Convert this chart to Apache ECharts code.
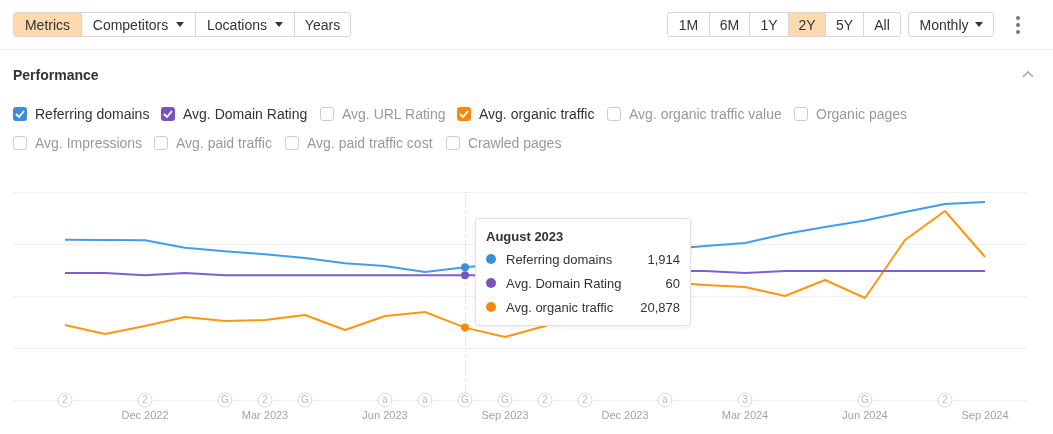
<!DOCTYPE html>
<html>
<head>
<meta charset="utf-8">
<script src="https://cdn.jsdelivr.net/npm/echarts@6/dist/echarts.min.js"></script>
<style>
  body { margin: 0; background: #fff; font-family: 'Liberation Sans', Arial, sans-serif; color: #333; }
  #chart1 { position: absolute; left: 0; top: 0; width: 1053px; height: 434px; }
  .ui { position: absolute; z-index: 2; }
  .grp { display: flex; border: 1px solid #d6d6d6; border-radius: 3px; height: 23px; overflow: hidden; }
  .grp div { display: flex; align-items: center; justify-content: center; font-size: 14px; color: #333; border-left: 1px solid #d6d6d6; box-sizing: border-box; }
  .grp div:first-child { border-left: none; }
  .grp .on { background: #fdd9b0; }
  .caret { display: inline-block; width: 0; height: 0; border-left: 4px solid transparent; border-right: 4px solid transparent; border-top: 5px solid #333; margin-left: 8px; }
  .cb { position: absolute; display: flex; align-items: center; font-size: 14px; color: #999; white-space: nowrap; }
  .cb .box { width: 14px; height: 14px; border: 1px solid #ccc; border-radius: 3px; box-sizing: border-box; margin-right: 8px; background: #fff; }
  .cb.on { color: #333; }
  .cb.on .box { border: none; display: flex; align-items: center; justify-content: center; }
</style>
</head>
<body>
<div id="chart1"></div>

<!-- top bar -->
<div class="ui grp" style="left:13px;top:12px;">
  <div class="on" style="width:67px;">Metrics</div>
  <div style="width:114px;">Competitors<span class="caret"></span></div>
  <div style="width:99px;">Locations<span class="caret"></span></div>
  <div style="width:56px;">Years</div>
</div>
<div class="ui grp" style="left:667px;top:12px;">
  <div style="width:41px;">1M</div>
  <div style="width:40px;">6M</div>
  <div style="width:39px;">1Y</div>
  <div class="on" style="width:37px;">2Y</div>
  <div style="width:38px;">5Y</div>
  <div style="width:37px;">All</div>
</div>
<div class="ui grp" style="left:908px;top:12px;">
  <div style="width:84px;">Monthly<span class="caret" style="margin-left:6px"></span></div>
</div>
<svg class="ui" style="left:1014px;top:15px;" width="8" height="20">
  <circle cx="4" cy="3" r="2" fill="#777"/><circle cx="4" cy="10" r="2" fill="#777"/><circle cx="4" cy="17" r="2" fill="#777"/>
</svg>
<div class="ui" style="left:0;top:49px;width:1053px;height:1px;background:#ececec;"></div>

<div class="ui" style="left:13px;top:67px;font-size:14px;font-weight:bold;color:#333;">Performance</div>
<svg class="ui" style="left:1021px;top:70px;" width="14" height="9">
  <polyline points="2,7 7,2 12,7" fill="none" stroke="#aaa" stroke-width="1.6"/>
</svg>

<div id="checks"></div>

<script>
// months shown on the x axis (Oct 2022 .. Sep 2024)
var months = ['Oct 2022', 'Nov 2022', 'Dec 2022', 'Jan 2023', 'Feb 2023', 'Mar 2023', 'Apr 2023', 'May 2023',
    'Jun 2023', 'Jul 2023', 'Aug 2023', 'Sep 2023', 'Oct 2023', 'Nov 2023', 'Dec 2023', 'Jan 2024',
    'Feb 2024', 'Mar 2024', 'Apr 2024', 'May 2024', 'Jun 2024', 'Jul 2024', 'Aug 2024', 'Sep 2024'];
var labelMonths = [2, 5, 8, 11, 14, 17, 20, 23];

var referringDomains = [2312, 2308, 2303, 2197, 2145, 2101, 2048, 1972, 1933, 1846, 1914, 1962,
    2034, 2091, 2135, 2171, 2221, 2264, 2394, 2495, 2589, 2712, 2827, 2856];
var domainRating = [61, 61, 60, 61, 60, 60, 60, 60, 60, 60, 60, 60,
    61, 62, 62, 62, 62, 61, 62, 62, 62, 62, 62, 62];
var organicTraffic = [21635, 19038, 21346, 23942, 22788, 23077, 24519, 20192, 24231, 25385, 20878, 18173,
    21346, 25962, 30288, 34038, 33173, 32596, 30000, 34615, 29423, 46154, 54519, 41250];

// annotation badges on the time line
var noteMonths = [0, 2, 4, 5, 6, 8, 9, 10, 11, 12, 13, 15, 17, 20, 22];
var noteLabels = ['2', '2', 'G', '2', 'G', 'a', 'a', 'G', 'G', '2', '2', 'a', '3', 'G', '2'];

var hoverIndex = 10;

var seriesNames = ['Referring domains', 'Avg. Domain Rating', 'Avg. organic traffic'];
var seriesColors = ['#3d8ed9', '#7656bd', '#f5890f'];

// metric checkboxes
var checkItems = [
    ['Referring domains', 13, 107, '#3d8ed9'],
    ['Avg. Domain Rating', 161, 107, '#7656bd'],
    ['Avg. URL Rating', 320, 107, null],
    ['Avg. organic traffic', 457, 107, '#f5890f'],
    ['Avg. organic traffic value', 607, 107, null],
    ['Organic pages', 794, 107, null],
    ['Avg. Impressions', 13, 136, null],
    ['Avg. paid traffic', 154, 136, null],
    ['Avg. paid traffic cost', 285, 136, null],
    ['Crawled pages', 446, 136, null]
];

var checksDom = document.getElementById('checks');
checkItems.forEach(function (c) {
    var el = document.createElement('div');
    el.className = 'cb ui' + (c[3] ? ' on' : '');
    el.style.left = c[1] + 'px';
    el.style.top = c[2] + 'px';
    el.style.height = '14px';
    var box = '<span class="box"' + (c[3] ? ' style="background:' + c[3] + '"' : '') + '>' +
        (c[3] ? '<svg width="10" height="8"><polyline points="1,4 4,7 9,1" fill="none" stroke="#fff" stroke-width="1.8"/></svg>' : '') +
        '</span>';
    el.innerHTML = box + c[0];
    checksDom.appendChild(el);
});

function pairs(arr) {
    var out = [];
    for (var i = 0; i < arr.length; i++) out.push([i, arr[i]]);
    return out;
}

var fullMonth = { Jan: 'January', Feb: 'February', Mar: 'March', Apr: 'April', May: 'May', Jun: 'June',
    Jul: 'July', Aug: 'August', Sep: 'September', Oct: 'October', Nov: 'November', Dec: 'December' };

var noteData = [];
for (var k = 0; k < noteMonths.length; k++) noteData.push([noteMonths[k], 0, noteLabels[k]]);

var dom1 = document.getElementById('chart1');
var Chart1 = echarts.init(dom1);

var lineSeries = [referringDomains, domainRating, organicTraffic].map(function (arr, i) {
    return {
        name: seriesNames[i],
        type: 'line',
        yAxisIndex: i,
        data: pairs(arr),
        showSymbol: false,
        symbol: 'circle',
        symbolSize: 8,
        color: seriesColors[i],
        itemStyle: { borderWidth: 0 },
        lineStyle: { width: 2 },
        emphasis: { scale: false, itemStyle: { borderWidth: 0 }, lineStyle: { width: 2 } },
        z: 60 + (2 - i)
    };
});

var option1 = {
    animation: false,
    textStyle: { fontFamily: "'Liberation Sans', Arial, sans-serif" },
    grid: { top: 192, left: 13, right: 26, bottom: 34 },
    tooltip: {
        trigger: 'axis',
        alwaysShowContent: true,
        transitionDuration: 0,
        position: [475, 218],
        padding: 0,
        backgroundColor: '#fff',
        borderColor: '#e2e2e2',
        borderWidth: 1,
        borderRadius: 4,
        extraCssText: 'box-shadow: 0 1px 4px rgba(0,0,0,0.08);',
        axisPointer: { type: 'line', z: 1, lineStyle: { color: '#e6e6e6', width: 1 } },
        formatter: function (params) {
            var lines = params.filter(function (p) { return p.seriesType === 'line'; });
            var idx = lines[0].dataIndex;
            var m = months[idx].split(' ');
            var html = '<div style="width:194px;padding:10px 10px 6px 10px;font-family:\'Liberation Sans\',Arial,sans-serif;color:#333;font-size:13px;">' +
                '<div style="font-weight:bold;line-height:16px;margin-bottom:2px;">' + fullMonth[m[0]] + ' ' + m[1] + '</div>';
            lines.forEach(function (p) {
                html += '<div style="display:flex;align-items:center;height:24px;">' +
                    '<span style="width:10px;height:10px;border-radius:5px;background:' + p.color + ';margin-right:10px;"></span>' +
                    '<span style="flex:1">' + p.seriesName + '</span>' +
                    '<span>' + p.value[1].toLocaleString('en-US') + '</span></div>';
            });
            return html + '</div>';
        }
    },
    xAxis: {
        type: 'value',
        min: -1.3,
        max: 24.05,
        axisLine: { show: false },
        axisTick: { show: false },
        splitLine: { show: false },
        axisLabel: {
            customValues: labelMonths,
            formatter: function (v) { return months[v]; },
            color: '#a3a3a3',
            fontSize: 11,
            margin: 10
        }
    },
    yAxis: [
        {
            type: 'value', min: 0, max: 3000, interval: 750,
            axisLabel: { show: false }, axisLine: { show: false }, axisTick: { show: false },
            splitLine: { lineStyle: { color: '#efefef' } }
        },
        { type: 'value', min: 0, max: 100, show: false, splitLine: { show: false } },
        { type: 'value', min: 0, max: 60000, show: false, splitLine: { show: false } }
    ],
    series: lineSeries.concat([{
        name: 'notes',
        type: 'scatter',
        yAxisIndex: 0,
        data: noteData,
        symbol: 'circle',
        symbolSize: 14,
        clip: false,
        silent: true,
        z: 1,
        itemStyle: { color: '#fff', borderColor: '#cfcfcf', borderWidth: 1 },
        label: {
            show: true,
            position: 'inside',
            formatter: function (p) { return p.value[2]; },
            color: '#aaa',
            fontSize: 10
        },
        emphasis: { disabled: true },
        tooltip: { show: false }
    }])
};

Chart1.setOption(option1);
Chart1.dispatchAction({ type: 'showTip', seriesIndex: 0, dataIndex: hoverIndex });
</script>
</body>
</html>
